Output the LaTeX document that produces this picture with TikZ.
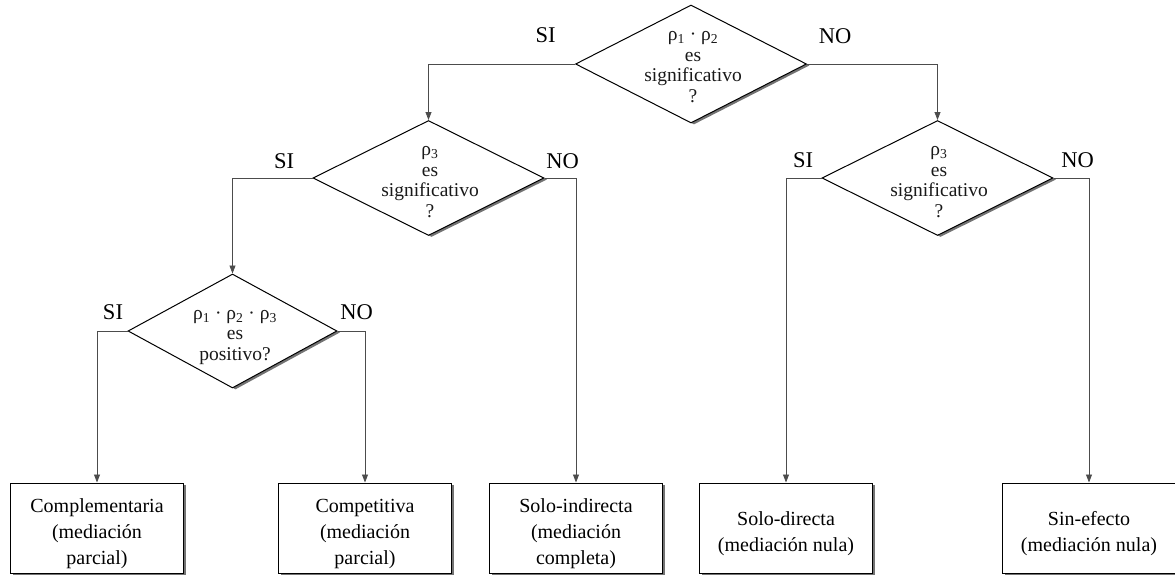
\documentclass[tikz,border=0pt]{standalone}
\usepackage{fontspec}
\setmainfont{Liberation Serif}
\usetikzlibrary{shapes.geometric,arrows.meta,shadows}
\begin{document}
\begin{tikzpicture}[x=1pt,y=-1pt,
  decision/.style={shape=diamond, draw=black, line width=1pt, fill=white,
    inner sep=0pt, minimum width=231pt, minimum height=116pt,
    drop shadow={shadow xshift=3pt, shadow yshift=-1.5pt, fill=black!55, opacity=1}},
  dtext/.style={align=center, text=black!90, font=\fontsize{19.5}{20.5}\selectfont},
  outcome/.style={draw=black, line width=1pt, fill=white, inner sep=2pt,
    minimum width=173pt, minimum height=90pt,
    drop shadow={shadow xshift=2pt, shadow yshift=-2pt, fill=black!55, opacity=1}},
  otext/.style={align=center, inner sep=0pt, yshift=-5.5pt,
    font=\fontsize{20}{26}\selectfont},
  answer/.style={inner sep=0pt, font=\fontsize{22.5}{23}\selectfont},
  conn/.style={draw=black!70, line width=0.8pt, -{Triangle[length=8pt,width=6pt]}}]
\useasboundingbox (0,0) rectangle (1175,576);

% decisions
\node[decision, minimum height=118pt] (d1) at (691,64) {};
\node[dtext] (t1) at (693,67) {ρ\textsubscript{1} · ρ\textsubscript{2}\\es\\significativo\\?};
\node[decision, minimum height=115pt] (d2) at (428.5,178) {};
\node[dtext] (t2) at (430,182) {ρ\textsubscript{3}\\es\\significativo\\?};
\node[decision, minimum width=209pt, minimum height=114pt] (d3) at (232.5,331) {};
\node[dtext] (t3) at (235,337) {ρ\textsubscript{1} · ρ\textsubscript{2} · ρ\textsubscript{3}\\es\\positivo?};
\node[decision, minimum height=115pt] (d4) at (937.5,178) {};
\node[dtext] (t4) at (939,182) {ρ\textsubscript{3}\\es\\significativo\\?};

% outcomes
\node[outcome] (b1) at (97,528) {};
\node[outcome] (b2) at (365,528) {};
\node[outcome] (b3) at (576,528) {};
\node[outcome] (b4) at (786,528) {};
\node[outcome] (b5) at (1089,528) {};
\node[otext] (o1) at (b1) {Complementaria\\(mediación\\parcial)};
\node[otext] (o2) at (b2) {Competitiva\\(mediación\\parcial)};
\node[otext] (o3) at (b3) {Solo-indirecta\\(mediación\\completa)};
\node[otext] (o4) at (b4) {Solo-directa\\(mediación nula)};
\node[otext] (o5) at (b5) {Sin-efecto\\(mediación nula)};

% answers
\node[answer] (s1) at (545.5,35) {SI};
\node[answer] (n1) at (835,36) {NO};
\node[answer] (s2) at (284,161) {SI};
\node[answer] (n2) at (562.5,161) {NO};
\node[answer] (s3) at (113,312.5) {SI};
\node[answer] (n3) at (356.5,312.5) {NO};
\node[answer] (s4) at (803,160.5) {SI};
\node[answer] (n4) at (1077.5,160.5) {NO};

% connectors
\draw[conn] (d1.west) -| (d2.north);
\draw[conn] (d1.east) -| (d4.north);
\draw[conn] (d2.west) -| (d3.north);
\draw[conn] (d2.east) -| (b3.north);
\draw[conn] (d3.west) -| (b1.north);
\draw[conn] (d3.east) -| (b2.north);
\draw[conn] (d4.west) -| (b4.north);
\draw[conn] (d4.east) -| (b5.north);
\end{tikzpicture}
\end{document}
